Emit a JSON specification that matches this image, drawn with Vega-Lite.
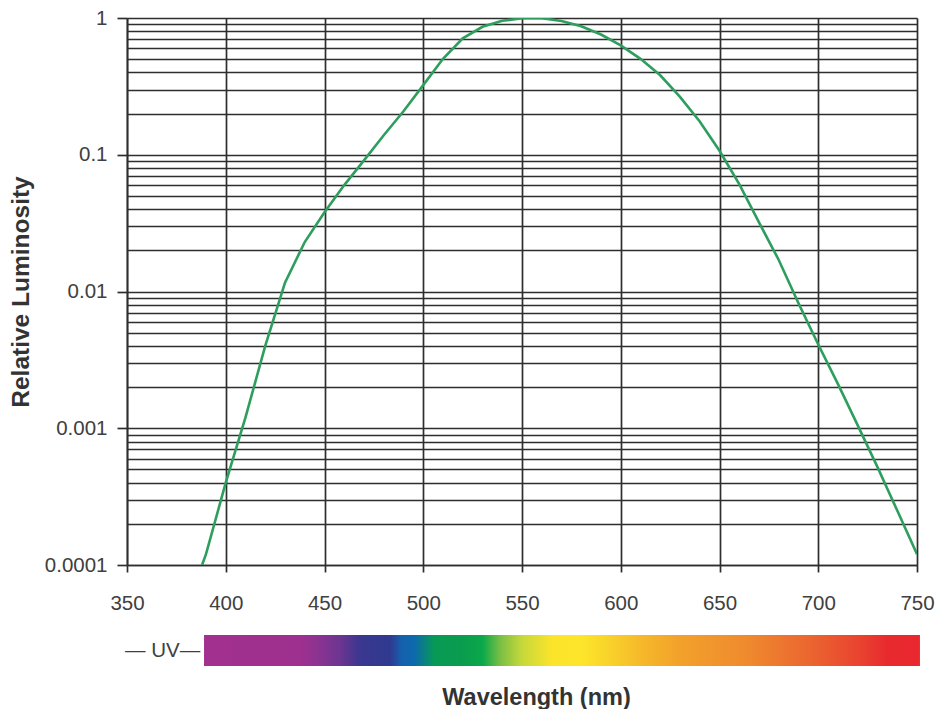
{
  "$schema": "https://vega.github.io/schema/vega-lite/v6.json",
  "background": "white",
  "padding": {"left": 8, "top": 8, "right": 0, "bottom": 0},
  "bounds": "flush",
  "spacing": 70,
  "config": {
    "view": {"stroke": null},
    "font": "Liberation Sans",
    "axis": {
      "labelFont": "Liberation Sans",
      "titleFont": "Liberation Sans",
      "labelFontSize": 20.5,
      "labelColor": "#404040",
      "titleFontSize": 24,
      "titleFontWeight": "bold",
      "titleColor": "#333333",
      "gridColor": "#2e2e2e",
      "gridWidth": 1.7,
      "gridOpacity": 1,
      "domainColor": "#2e2e2e",
      "domainWidth": 1.7,
      "tickColor": "#2e2e2e",
      "tickWidth": 1.7
    }
  },
  "vconcat": [
    {
      "width": 790,
      "height": 547,
      "data": {
        "values": [
          {"wavelength": 388, "luminosity": 0.0001},
          {"wavelength": 390, "luminosity": 0.00012},
          {"wavelength": 400, "luminosity": 0.0004},
          {"wavelength": 410, "luminosity": 0.0012},
          {"wavelength": 420, "luminosity": 0.004},
          {"wavelength": 430, "luminosity": 0.0116},
          {"wavelength": 440, "luminosity": 0.023},
          {"wavelength": 450, "luminosity": 0.038},
          {"wavelength": 460, "luminosity": 0.06},
          {"wavelength": 470, "luminosity": 0.091},
          {"wavelength": 480, "luminosity": 0.139},
          {"wavelength": 490, "luminosity": 0.208},
          {"wavelength": 500, "luminosity": 0.323},
          {"wavelength": 510, "luminosity": 0.503},
          {"wavelength": 520, "luminosity": 0.71},
          {"wavelength": 530, "luminosity": 0.862},
          {"wavelength": 540, "luminosity": 0.954},
          {"wavelength": 550, "luminosity": 0.995},
          {"wavelength": 555, "luminosity": 1.0},
          {"wavelength": 560, "luminosity": 0.995},
          {"wavelength": 570, "luminosity": 0.952},
          {"wavelength": 580, "luminosity": 0.87},
          {"wavelength": 590, "luminosity": 0.757},
          {"wavelength": 600, "luminosity": 0.631},
          {"wavelength": 610, "luminosity": 0.503},
          {"wavelength": 620, "luminosity": 0.381},
          {"wavelength": 630, "luminosity": 0.265},
          {"wavelength": 640, "luminosity": 0.175},
          {"wavelength": 650, "luminosity": 0.107},
          {"wavelength": 660, "luminosity": 0.061},
          {"wavelength": 670, "luminosity": 0.032},
          {"wavelength": 680, "luminosity": 0.017},
          {"wavelength": 690, "luminosity": 0.0082},
          {"wavelength": 700, "luminosity": 0.0041},
          {"wavelength": 710, "luminosity": 0.0021},
          {"wavelength": 720, "luminosity": 0.00105},
          {"wavelength": 730, "luminosity": 0.00052},
          {"wavelength": 740, "luminosity": 0.00025},
          {"wavelength": 750, "luminosity": 0.00012}
        ]
      },
      "mark": {"type": "line", "color": "#2e9e5e", "strokeWidth": 2.6, "clip": true},
      "encoding": {
        "x": {
          "field": "wavelength",
          "type": "quantitative",
          "scale": {"domain": [350, 750], "nice": false, "zero": false},
          "axis": {
            "title": null,
            "values": [350, 400, 450, 500, 550, 600, 650, 700, 750],
            "grid": true,
            "tickSize": 7,
            "labelPadding": 21,
            "labelFlush": false
          }
        },
        "y": {
          "field": "luminosity",
          "type": "quantitative",
          "scale": {"type": "log", "domain": [0.0001, 1], "nice": false},
          "axis": {
            "title": "Relative Luminosity",
            "titleFontSize": 24.5,
            "titlePadding": 11,
            "values": [0.0001, 0.0002, 0.0003, 0.0004, 0.0005, 0.0006, 0.0007, 0.0008, 0.0009,
                       0.001, 0.002, 0.003, 0.004, 0.005, 0.006, 0.007, 0.008, 0.009,
                       0.01, 0.02, 0.03, 0.04, 0.05, 0.06, 0.07, 0.08, 0.09,
                       0.1, 0.2, 0.3, 0.4, 0.5, 0.6, 0.7, 0.8, 0.9, 1],
            "format": ".4~f",
            "grid": true,
            "tickSize": 10,
            "labelPadding": 10,
            "labelFlush": false,
            "labelOverlap": false,
            "tickOpacity": {"condition": {"test": "abs(log(datum.value)/LN10 - round(log(datum.value)/LN10)) < 0.001", "value": 1}, "value": 0},
            "labelExpr": "abs(log(datum.value)/LN10 - round(log(datum.value)/LN10)) < 0.001 ? datum.label : ''"
          }
        }
      }
    },
    {
      "width": 790,
      "height": 31,
      "layer": [
        {
          "data": {"values": [{"start": 389, "end": 751.5}]},
          "mark": {
            "type": "rect",
            "color": {
              "gradient": "linear",
              "x1": 0, "y1": 0, "x2": 1, "y2": 0,
              "stops": [
                {"offset": 0, "color": "#a2308e"},
                {"offset": 0.135, "color": "#9e308f"},
                {"offset": 0.157, "color": "#8e3391"},
                {"offset": 0.19, "color": "#6c3591"},
                {"offset": 0.218, "color": "#3a3790"},
                {"offset": 0.26, "color": "#2f3a8f"},
                {"offset": 0.276, "color": "#1560ad"},
                {"offset": 0.294, "color": "#0c6aac"},
                {"offset": 0.322, "color": "#079a55"},
                {"offset": 0.359, "color": "#0a9c4e"},
                {"offset": 0.389, "color": "#0aa84a"},
                {"offset": 0.414, "color": "#7bbf45"},
                {"offset": 0.444, "color": "#c6d83a"},
                {"offset": 0.486, "color": "#fbe42a"},
                {"offset": 0.527, "color": "#fde52a"},
                {"offset": 0.563, "color": "#f9d42a"},
                {"offset": 0.61, "color": "#f6b92a"},
                {"offset": 0.665, "color": "#f2a12b"},
                {"offset": 0.759, "color": "#ef8a2e"},
                {"offset": 0.85, "color": "#eb6430"},
                {"offset": 0.921, "color": "#e9402f"},
                {"offset": 0.954, "color": "#e82a2e"},
                {"offset": 1, "color": "#e8282e"}
              ]
            }
          },
          "encoding": {
            "x": {
              "field": "start",
              "type": "quantitative",
              "scale": {"domain": [350, 750], "nice": false, "zero": false},
              "axis": {
                "title": "Wavelength (nm)",
                "titleFontSize": 23.5,
                "labels": false,
                "ticks": false,
                "domain": false,
                "grid": false,
                "titlePadding": 19,
                "titleX": 409
              }
            },
            "x2": {"field": "end"}
          }
        },
        {
          "data": {"values": [{"label": "— UV—", "wavelength": 368}]},
          "mark": {"type": "text", "fontSize": 20.5, "color": "#404040", "font": "Liberation Sans"},
          "encoding": {
            "x": {"field": "wavelength", "type": "quantitative"},
            "text": {"field": "label"}
          }
        }
      ]
    }
  ]
}
